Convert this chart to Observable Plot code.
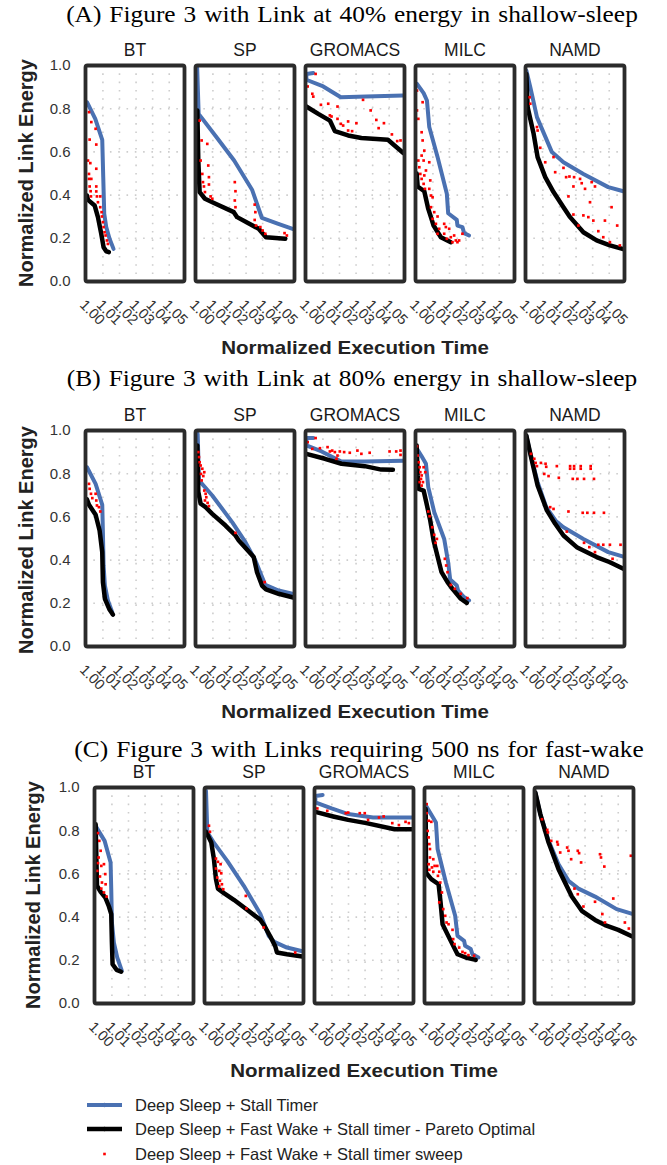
<!DOCTYPE html>
<html><head><meta charset="utf-8">
<script src="https://cdn.jsdelivr.net/npm/d3@7"></script>
<script src="https://cdn.jsdelivr.net/npm/@observablehq/plot@0.6"></script>
<style>
body{margin:0;background:#fff;}
#root{position:relative;width:667px;height:1165px;overflow:hidden;font-family:"Liberation Sans",Arial,sans-serif;}
.ptitle{position:absolute;font-family:"Liberation Serif","Times New Roman",serif;font-size:23.5px;line-height:1;color:#000;white-space:nowrap;word-spacing:1.5px;transform:translateX(-50%) scaleX(1.08);}
.xtitle{position:absolute;font-weight:bold;font-size:19px;line-height:1;color:#222;white-space:nowrap;transform:translateX(-50%) scaleX(1.08);}
.ytitle{position:absolute;font-weight:bold;font-size:20px;line-height:1;color:#222;white-space:nowrap;transform:translate(-50%,-50%) rotate(-90deg);}
.panel{position:absolute;left:0;}
</style></head><body><div id="root"></div>
<script>
// ---------- labels ----------
const facets = ["BT", "SP", "GROMACS", "MILC", "NAMD"];
const xTicks = [1.00, 1.01, 1.02, 1.03, 1.04, 1.05];
const yTicks = [0, 0.2, 0.4, 0.6, 0.8, 1.0];
const panelTitles = [
  "(A) Figure 3 with Link at 40% energy in shallow-sleep",
  "(B) Figure 3 with Link at 80% energy in shallow-sleep",
  "(C) Figure 3 with Links requiring 500 ns for fast-wake"
];
const xTitle = "Normalized Execution Time";
const yTitle = "Normalized Link Energy";
const legendLabels = [
  "Deep Sleep + Stall Timer",
  "Deep Sleep + Fast Wake + Stall timer - Pareto Optimal",
  "Deep Sleep + Fast Wake + Stall timer sweep"
];

// ---------- Panel A: 40% energy in shallow-sleep ----------
const blueA = {
  BT: [[1.0004,0.830],[1.0054,0.753],[1.0096,0.656],[1.0102,0.483],[1.0108,0.313],[1.012,0.252],[1.014,0.198],[1.0164,0.151]],
  SP: [[1.0005,0.99],[1.0014,0.776],[1.013,0.66],[1.0228,0.56],[1.0336,0.425],[1.0395,0.295],[1.049,0.268],[1.0585,0.242]],
  GROMACS: [[1.0042,0.965],[1.0,0.961],[1.0,0.934],[1.0102,0.903],[1.0208,0.853],[1.036,0.856],[1.0585,0.861]],
  MILC: [[1.0004,0.915],[1.0044,0.872],[1.0064,0.838],[1.0078,0.715],[1.0128,0.576],[1.0184,0.406],[1.0192,0.316],[1.0244,0.285],[1.0248,0.259],[1.0278,0.252],[1.0288,0.224],[1.0318,0.213]],
  NAMD: [[1.0,0.977],[1.0024,0.900],[1.0064,0.761],[1.0154,0.599],[1.0224,0.552],[1.0344,0.498],[1.0494,0.437],[1.0585,0.418]]
};
const blackA = {
  BT: [[1.0004,0.398],[1.001,0.378],[1.005,0.352],[1.007,0.298],[1.009,0.221],[1.0104,0.159],[1.012,0.140],[1.0136,0.136]],
  SP: [[1.0006,0.792],[1.0012,0.560],[1.002,0.414],[1.0052,0.383],[1.0116,0.360],[1.0226,0.321],[1.0246,0.298],[1.0376,0.244],[1.042,0.205],[1.0536,0.198]],
  GROMACS: [[1.0,0.810],[1.0072,0.776],[1.0142,0.745],[1.0172,0.696],[1.0252,0.676],[1.0332,0.664],[1.0492,0.656],[1.0532,0.630],[1.0585,0.595]],
  MILC: [[1.0002,0.500],[1.0008,0.440],[1.0048,0.418],[1.0072,0.336],[1.0088,0.298],[1.0104,0.259],[1.0148,0.205],[1.0208,0.182]],
  NAMD: [[1.0,0.961],[1.0008,0.807],[1.0044,0.684],[1.0068,0.576],[1.0114,0.483],[1.0164,0.414],[1.0224,0.344],[1.0264,0.298],[1.0344,0.228],[1.0424,0.190],[1.0504,0.167],[1.0585,0.150]]
};
const redA = {
  BT: [[1.0016,0.784],[1.003,0.738],[1.0056,0.707],[1.002,0.657],[1.006,0.634],[1.001,0.560],[1.0024,0.548],[1.006,0.522],[1.0016,0.498],[1.0016,0.475],[1.003,0.475],[1.002,0.440],[1.006,0.440],[1.0026,0.418],[1.006,0.417],[1.0028,0.394],[1.0064,0.394],[1.0084,0.394],[1.007,0.367],[1.0084,0.344],[1.0092,0.321],[1.0094,0.301],[1.010,0.275],[1.0104,0.252],[1.011,0.228],[1.0116,0.213],[1.0124,0.190],[1.013,0.174]],
  SP: [[1.002,0.745],[1.0032,0.653],[1.0066,0.637],[1.0026,0.560],[1.0072,0.537],[1.0036,0.498],[1.0076,0.483],[1.004,0.460],[1.0046,0.440],[1.0076,0.449],[1.0052,0.414],[1.0086,0.394],[1.0096,0.383],[1.0232,0.460],[1.0236,0.418],[1.0232,0.375],[1.0236,0.344],[1.0352,0.356],[1.0356,0.321],[1.0352,0.285],[1.036,0.259],[1.0386,0.252],[1.04,0.236],[1.0416,0.221],[1.0532,0.224],[1.0546,0.213]],
  GROMACS: [[1.0008,0.903],[1.0036,0.869],[1.0042,0.856],[1.0056,0.961],[1.0088,0.818],[1.0132,0.823],[1.0142,0.769],[1.0152,0.764],[1.0188,0.810],[1.0188,0.753],[1.0208,0.730],[1.0222,0.722],[1.0252,0.741],[1.0302,0.733],[1.0252,0.699],[1.0276,0.696],[1.0342,0.841],[1.0388,0.792],[1.0422,0.748],[1.0436,0.710],[1.0468,0.733],[1.0516,0.681],[1.0548,0.650],[1.0568,0.653]],
  MILC: [[1.0004,0.884],[1.0004,0.792],[1.0012,0.753],[1.0038,0.830],[1.0032,0.691],[1.0038,0.653],[1.0048,0.606],[1.0032,0.583],[1.0012,0.560],[1.0018,0.529],[1.0044,0.560],[1.0078,0.552],[1.0024,0.498],[1.0048,0.491],[1.0058,0.514],[1.0032,0.475],[1.0044,0.452],[1.0084,0.468],[1.0052,0.429],[1.0078,0.429],[1.0088,0.398],[1.0098,0.390],[1.0088,0.344],[1.0108,0.321],[1.0128,0.301],[1.0098,0.290],[1.0118,0.267],[1.0168,0.267],[1.0178,0.252],[1.0138,0.244],[1.0198,0.244],[1.0128,0.221],[1.0168,0.221],[1.0208,0.205],[1.0228,0.213],[1.0238,0.190],[1.0258,0.190],[1.0278,0.221],[1.0184,0.198],[1.0218,0.182],[1.0248,0.182]],
  NAMD: [[1.002,0.853],[1.0024,0.823],[1.0064,0.715],[1.0068,0.699],[1.0084,0.619],[1.0114,0.552],[1.0164,0.576],[1.0174,0.506],[1.0224,0.526],[1.024,0.483],[1.026,0.486],[1.0284,0.440],[1.0288,0.483],[1.0324,0.475],[1.0334,0.455],[1.0354,0.429],[1.0394,0.460],[1.0414,0.440],[1.0254,0.394],[1.0384,0.367],[1.0284,0.310],[1.0344,0.306],[1.0374,0.298],[1.0404,0.282],[1.0474,0.282],[1.0314,0.259],[1.0514,0.344],[1.0548,0.259],[1.0434,0.233],[1.0464,0.205],[1.0504,0.182],[1.0564,0.167]]
};

// ---------- Panel B: 80% energy in shallow-sleep ----------
const blueB = {
  BT: [[1.0004,0.830],[1.0056,0.753],[1.0096,0.656],[1.010,0.529],[1.0104,0.375],[1.0112,0.282],[1.013,0.213],[1.0156,0.159]],
  SP: [[1.0008,0.985],[1.0016,0.769],[1.0096,0.699],[1.0216,0.576],[1.0296,0.483],[1.0356,0.398],[1.0416,0.285],[1.0496,0.259],[1.0585,0.243]],
  GROMACS: [[1.0042,0.965],[1.0,0.965],[1.0,0.931],[1.0092,0.903],[1.0208,0.857],[1.0352,0.857],[1.0585,0.860]],
  MILC: [[1.0004,0.915],[1.0032,0.881],[1.0058,0.846],[1.0072,0.738],[1.0108,0.622],[1.0168,0.498],[1.0192,0.390],[1.0204,0.310],[1.0244,0.282],[1.0252,0.259],[1.0288,0.228],[1.0318,0.213]],
  NAMD: [[1.0,0.977],[1.0024,0.892],[1.0068,0.761],[1.012,0.645],[1.018,0.579],[1.0224,0.552],[1.0344,0.498],[1.0494,0.437],[1.0585,0.416]]
};
const blackB = {
  BT: [[1.0004,0.681],[1.0016,0.656],[1.0056,0.610],[1.008,0.537],[1.0096,0.437],[1.010,0.298],[1.0112,0.221],[1.014,0.171],[1.016,0.148]],
  SP: [[1.0006,0.931],[1.0012,0.715],[1.0026,0.661],[1.0056,0.645],[1.0096,0.614],[1.0176,0.560],[1.0236,0.514],[1.0256,0.491],[1.0346,0.414],[1.0366,0.344],[1.0396,0.282],[1.042,0.264],[1.0496,0.244],[1.0585,0.227]],
  GROMACS: [[1.0,0.892],[1.0112,0.869],[1.0212,0.846],[1.0352,0.835],[1.0452,0.819],[1.0522,0.818]],
  MILC: [[1.0002,0.931],[1.0008,0.792],[1.0014,0.730],[1.0044,0.722],[1.006,0.668],[1.0084,0.583],[1.0104,0.491],[1.0152,0.344],[1.0188,0.298],[1.0218,0.267],[1.0268,0.221],[1.0304,0.202]],
  NAMD: [[1.0,0.977],[1.0024,0.892],[1.0068,0.745],[1.0124,0.630],[1.0174,0.568],[1.0224,0.514],[1.0304,0.460],[1.0424,0.414],[1.0504,0.390],[1.0585,0.360]]
};
const redB = {
  BT: [[1.0016,0.753],[1.002,0.730],[1.0028,0.707],[1.0036,0.687],[1.0056,0.707],[1.006,0.676],[1.0064,0.653],[1.0076,0.645],[1.0084,0.625]],
  SP: [[1.0012,0.900],[1.0016,0.877],[1.002,0.853],[1.0026,0.838],[1.0036,0.823],[1.0048,0.807],[1.0028,0.799],[1.0042,0.789],[1.0032,0.769],[1.0048,0.722],[1.0056,0.707],[1.006,0.691],[1.0052,0.676],[1.0068,0.665],[1.0076,0.650],[1.0236,0.526],[1.0412,0.298]],
  GROMACS: [[1.0008,0.946],[1.0036,0.915],[1.0056,0.965],[1.0082,0.918],[1.0128,0.923],[1.0142,0.903],[1.0156,0.907],[1.0172,0.900],[1.0188,0.884],[1.0202,0.903],[1.0228,0.900],[1.0262,0.897],[1.0308,0.907],[1.0332,0.892],[1.0382,0.897],[1.0502,0.903],[1.0542,0.903],[1.0568,0.907],[1.0568,0.887],[1.0182,0.869]],
  MILC: [[1.0004,0.927],[1.0008,0.884],[1.0014,0.853],[1.002,0.830],[1.0024,0.807],[1.0032,0.792],[1.0028,0.776],[1.002,0.761],[1.004,0.761],[1.0032,0.745],[1.0044,0.830],[1.0054,0.807],[1.0072,0.625],[1.008,0.603],[1.0096,0.552],[1.0108,0.517],[1.0124,0.498],[1.0116,0.480],[1.0172,0.406],[1.018,0.375],[1.0188,0.344],[1.0208,0.285],[1.0232,0.267],[1.0268,0.244],[1.0308,0.224]],
  NAMD: [[1.0028,0.892],[1.0048,0.869],[1.0056,0.850],[1.0088,0.850],[1.0116,0.846],[1.012,0.832],[1.0064,0.835],[1.0184,0.835],[1.0264,0.835],[1.0288,0.835],[1.0328,0.835],[1.0388,0.835],[1.0264,0.823],[1.0288,0.823],[1.0328,0.823],[1.0388,0.823],[1.0108,0.799],[1.0134,0.789],[1.0196,0.781],[1.028,0.776],[1.0308,0.776],[1.0348,0.776],[1.0408,0.776],[1.0144,0.645],[1.0164,0.637],[1.0254,0.625],[1.034,0.619],[1.0368,0.619],[1.0408,0.619],[1.0468,0.619],[1.0244,0.532],[1.0348,0.480],[1.038,0.460],[1.0414,0.437],[1.0434,0.471],[1.0464,0.471],[1.0504,0.471],[1.0568,0.471],[1.052,0.406]]
};

// ---------- Panel C: 500 ns fast-wake ----------
const blueC = {
  BT: [[1.0004,0.819],[1.0056,0.753],[1.0092,0.653],[1.0096,0.529],[1.010,0.375],[1.0112,0.282],[1.0132,0.213],[1.016,0.151]],
  SP: [[1.0004,0.985],[1.0012,0.792],[1.0048,0.748],[1.0132,0.660],[1.0232,0.545],[1.0332,0.414],[1.0382,0.313],[1.0416,0.285],[1.0492,0.259],[1.0585,0.242]],
  GROMACS: [[1.0044,0.965],[1.0,0.961],[1.0,0.931],[1.0098,0.903],[1.0198,0.877],[1.0348,0.861],[1.0585,0.861]],
  MILC: [[1.0004,0.915],[1.004,0.869],[1.0064,0.838],[1.0074,0.715],[1.0124,0.560],[1.018,0.406],[1.0194,0.313],[1.0234,0.290],[1.024,0.267],[1.0274,0.252],[1.0284,0.228],[1.032,0.213]],
  NAMD: [[1.0,0.977],[1.003,0.877],[1.008,0.753],[1.014,0.645],[1.02,0.568],[1.026,0.532],[1.036,0.495],[1.049,0.437],[1.0585,0.415]]
};
const blackC = {
  BT: [[1.0002,0.830],[1.0006,0.684],[1.001,0.545],[1.0032,0.517],[1.006,0.491],[1.0082,0.449],[1.0096,0.414],[1.010,0.282],[1.0104,0.182],[1.0128,0.156],[1.0156,0.147]],
  SP: [[1.0004,0.795],[1.0036,0.745],[1.0052,0.668],[1.0064,0.576],[1.0076,0.532],[1.0112,0.511],[1.0172,0.480],[1.0252,0.434],[1.0332,0.387],[1.0356,0.360],[1.0392,0.310],[1.0422,0.264],[1.0432,0.236],[1.0492,0.228],[1.0585,0.218]],
  GROMACS: [[1.0,0.887],[1.0108,0.866],[1.0198,0.850],[1.0308,0.835],[1.0478,0.807],[1.0585,0.807]],
  MILC: [[1.0002,0.900],[1.0004,0.606],[1.0036,0.576],[1.008,0.552],[1.0092,0.468],[1.0104,0.367],[1.0148,0.298],[1.0194,0.228],[1.0244,0.213],[1.0304,0.202]],
  NAMD: [[1.0,0.977],[1.003,0.877],[1.008,0.745],[1.014,0.622],[1.022,0.495],[1.028,0.429],[1.036,0.387],[1.042,0.363],[1.05,0.341],[1.0585,0.310]]
};
const redC = {
  BT: [[1.0016,0.789],[1.0024,0.753],[1.0032,0.707],[1.002,0.676],[1.0016,0.650],[1.0036,0.637],[1.0052,0.645],[1.006,0.599],[1.0012,0.614],[1.0028,0.588],[1.004,0.560],[1.0062,0.552],[1.0036,0.532],[1.0052,0.514],[1.0068,0.495]],
  SP: [[1.0022,0.823],[1.0028,0.795],[1.0064,0.671],[1.0076,0.656],[1.0092,0.645],[1.0064,0.625],[1.0084,0.614],[1.0096,0.603],[1.0072,0.583],[1.0088,0.568],[1.01,0.552],[1.0084,0.542],[1.0108,0.529],[1.0244,0.498],[1.0248,0.440],[1.0352,0.352],[1.0542,0.236]],
  GROMACS: [[1.0012,0.903],[1.0072,0.892],[1.0184,0.881],[1.0198,0.884],[1.0268,0.881],[1.0298,0.881],[1.0384,0.861],[1.0412,0.866],[1.0464,0.835],[1.0504,0.826],[1.0544,0.841],[1.0564,0.835],[1.0318,0.850]],
  MILC: [[1.0008,0.923],[1.0008,0.881],[1.002,0.846],[1.0036,0.841],[1.0014,0.799],[1.002,0.769],[1.0024,0.738],[1.0028,0.715],[1.0028,0.676],[1.0048,0.668],[1.002,0.645],[1.004,0.630],[1.0056,0.637],[1.0072,0.637],[1.0024,0.619],[1.0048,0.610],[1.0084,0.610],[1.0076,0.591],[1.009,0.560],[1.01,0.514],[1.0084,0.468],[1.0108,0.437],[1.012,0.406],[1.0128,0.375],[1.014,0.367],[1.0164,0.341],[1.0168,0.298],[1.0176,0.275],[1.0204,0.259],[1.0224,0.239],[1.024,0.233],[1.026,0.224],[1.0294,0.221]],
  NAMD: [[1.004,0.853],[1.0072,0.804],[1.0076,0.792],[1.0096,0.753],[1.0132,0.748],[1.0136,0.736],[1.015,0.699],[1.0192,0.722],[1.02,0.707],[1.0216,0.668],[1.0256,0.707],[1.0264,0.696],[1.0276,0.653],[1.039,0.691],[1.0396,0.676],[1.0416,0.634],[1.0576,0.684],[1.0236,0.532],[1.0256,0.506],[1.029,0.449],[1.036,0.471],[1.0404,0.414],[1.047,0.486],[1.042,0.375],[1.054,0.375],[1.0564,0.347]]
};

// ---------- build ----------
const BLUE = "#4a71b2";
const rows = obj => facets.flatMap(f => (obj[f] || []).map(([x, y]) => ({facet: f, x, y})));
const root = document.getElementById("root");

function addDiv(cls, text, css) {
  const d = document.createElement("div");
  d.className = cls; d.textContent = text;
  Object.assign(d.style, css);
  root.appendChild(d);
}

function panel(blue, black, red, ml) {
  const facetsSpan = 542.3;
  return Plot.plot({
    width: 667, height: 331,
    marginTop: 65, marginBottom: 50, marginLeft: ml, marginRight: 667 - ml - facetsSpan,
    style: {background: "transparent", fontFamily: "'Liberation Sans', Arial, sans-serif", overflow: "visible"},
    fx: {domain: facets, padding: 0.1},
    x: {domain: [0.9995, 1.0592]},
    y: {domain: [0, 1]},
    marks: [
      Plot.ruleX(xTicks.slice(1), {stroke: "#cdcdcd", strokeWidth: 1.6, strokeDasharray: "1.6,6.7"}),
      Plot.ruleY(yTicks.slice(1, 5), {stroke: "#cdcdcd", strokeWidth: 1.6, strokeDasharray: "1.6,6.7"}),
      Plot.line(rows(blue), {x: "x", y: "y", fx: "facet", stroke: BLUE, strokeWidth: 4, strokeLinejoin: "round", strokeLinecap: "round"}),
      Plot.line(rows(black), {x: "x", y: "y", fx: "facet", stroke: "#000", strokeWidth: 4.5, strokeLinejoin: "round", strokeLinecap: "round"}),
      Plot.dot(rows(red), {x: "x", y: "y", fx: "facet", symbol: "square", r: 1.5, fill: "#ff0000", stroke: null}),
      Plot.frame({stroke: "#2b2b2b", strokeWidth: 3.8, rx: 2}),
      Plot.axisFx({anchor: "top", tickSize: 0, tickPadding: 10, fontSize: 17.5, color: "#1a1a1a", label: null}),
      Plot.axisY({ticks: yTicks, tickFormat: d => d.toFixed(1), tickSize: 0, tickPadding: 15, fontSize: 15, color: "#333", label: null}),
      Plot.axisX({ticks: xTicks, tickFormat: d => d.toFixed(2), tickSize: 0, tickPadding: 17, tickRotate: 45, textAnchor: "start", lineAnchor: "top", fontSize: 14.5, color: "#333", label: null})
    ]
  });
}

const panels = [
  {blue: blueA, black: blackA, red: redA, top: 0, ml: 83.7, titleCx: 352, titleBase: 22.5, xCx: 355, xBase: 354, yCx: 26, yCy: 173},
  {blue: blueB, black: blackB, red: redB, top: 365, ml: 83.7, titleCx: 351.5, titleBase: 387, xCx: 355, xBase: 718, yCx: 26, yCy: 540},
  {blue: blueC, black: blackC, red: redC, top: 722, ml: 92.6, titleCx: 359, titleBase: 757.5, xCx: 364, xBase: 1077, yCx: 33, yCy: 895}
];

panels.forEach((p, i) => {
  const svg = panel(p.blue, p.black, p.red, p.ml);
  const wrap = document.createElement("div");
  wrap.className = "panel"; wrap.style.top = p.top + "px";
  wrap.appendChild(svg);
  root.appendChild(wrap);
  addDiv("ptitle", panelTitles[i], {left: p.titleCx + "px", top: (p.titleBase - 0.838 * 23.5) + "px"});
  addDiv("xtitle", xTitle, {left: p.xCx + "px", top: (p.xBase - 0.8465 * 19) + "px"});
  addDiv("ytitle", yTitle, {left: p.yCx + "px", top: p.yCy + "px"});
});

// ---------- legend ----------
const lg = d3.create("svg").attr("width", 667).attr("height", 80)
  .style("position", "absolute").style("left", "0px").style("top", "1090px")
  .style("font-family", "'Liberation Sans', Arial, sans-serif");
const rowsY = [15, 39, 64];
[[BLUE, 4], ["#000", 4.5]].forEach(([c, w], i) => {
  lg.append("line").attr("x1", 87).attr("x2", 122).attr("y1", rowsY[i]).attr("y2", rowsY[i])
    .attr("stroke", c).attr("stroke-width", w);
  lg.append("circle").attr("cx", 104.5).attr("cy", rowsY[i]).attr("r", 2.2).attr("fill", c);
});
lg.append("rect").attr("x", 103.2).attr("y", rowsY[2] - 1.3).attr("width", 2.6).attr("height", 2.6).attr("fill", "#ff0000");
legendLabels.forEach((t, i) => {
  lg.append("text").attr("x", 135).attr("y", rowsY[i] + 6).attr("font-size", 16.5).attr("fill", "#222").text(t);
});
root.appendChild(lg.node());
</script>
</body></html>
